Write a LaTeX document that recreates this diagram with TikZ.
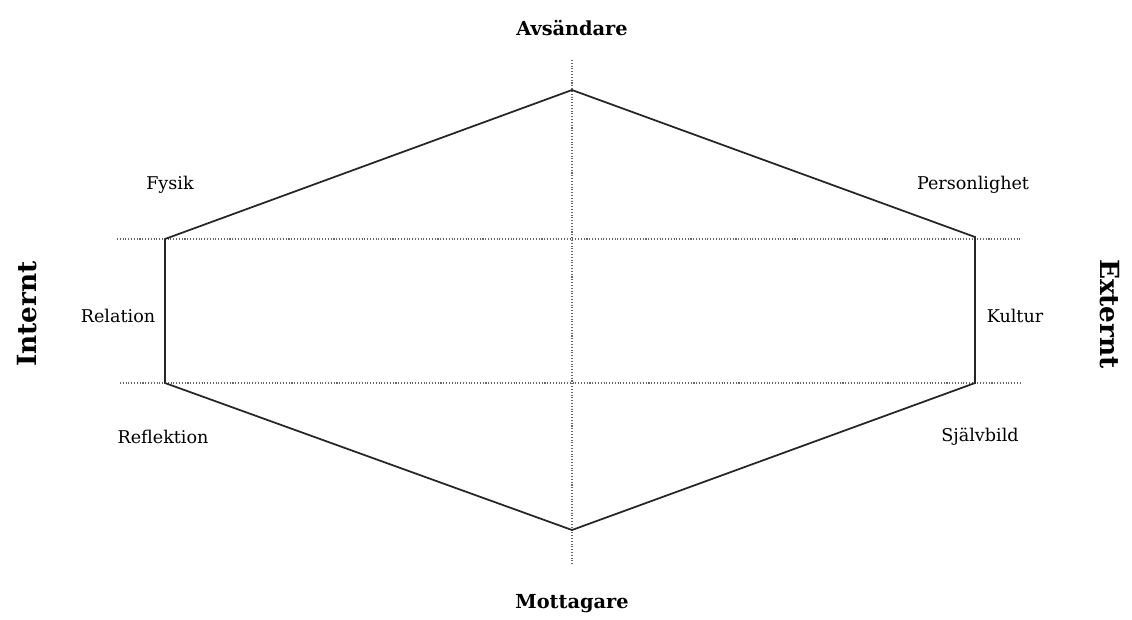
\documentclass[tikz,border=0pt]{standalone}
\usepackage{fontspec}
\setmainfont{DejaVu Serif}
\usetikzlibrary{positioning}
\tikzstyle{hexagon frame}=[
    x=0.02cm, y=-0.02cm,
    every node/.style={font=\fontsize{10}{12}\selectfont},
]
\tikzstyle{outline}=[draw=black!85, line width=1pt, line join=miter]
\tikzstyle{axis}=[draw=black!60, line width=0.6pt, densely dotted]
\tikzstyle{pole}=[font=\fontsize{11}{13}\selectfont\bfseries]
\tikzstyle{side}=[font=\fontsize{15}{17}\selectfont\bfseries]

\begin{document}
\begin{tikzpicture}[hexagon frame]
        \useasboundingbox (0,0) rectangle (1132,619);
        % corners of the hexagon
        \coordinate (top) at (572,90);
        \coordinate (ul) at (165,239);
        \coordinate (ur) at (975,237);
        \coordinate (ll) at (165,383);
        \coordinate (lr) at (975,383);
        \coordinate (bot) at (572,530);
        % ends of the dotted axes
        \coordinate (vtop) at (572,60);
        \coordinate (vbot) at (572,566);
        \coordinate (h1l) at (117,239);
        \coordinate (h1r) at (1020,239);
        \coordinate (h2l) at (120,383);
        \coordinate (h2r) at (1022,383);

        \path[axis] (vtop) -- (vbot);
        \path[axis] (h1l) -- (h1r);
        \path[axis] (h2l) -- (h2r);

        \path[outline] (top) -- (ur) -- (lr) -- (bot) -- (ll) -- (ul) -- cycle;

        \node[pole] (avs) at (572,28) {Avsändare};
        \node[pole] (mot) at (572,604) {Mottagare};
        \node[side, rotate=90] (int) at (27,314) {Internt};
        \node[side, rotate=-90] (ext) at (1110,314) {Externt};

        \node (fysik) at (170,185) {Fysik};
        \node (pers) at (973,185) {Personlighet};
        \node (rel) at (118,316) {Relation};
        \node (kult) at (1015,316) {Kultur};
        \node (refl) at (163,437) {Reflektion};
        \node (sjalv) at (980,437) {Självbild};
    \end{tikzpicture}
\end{document}
